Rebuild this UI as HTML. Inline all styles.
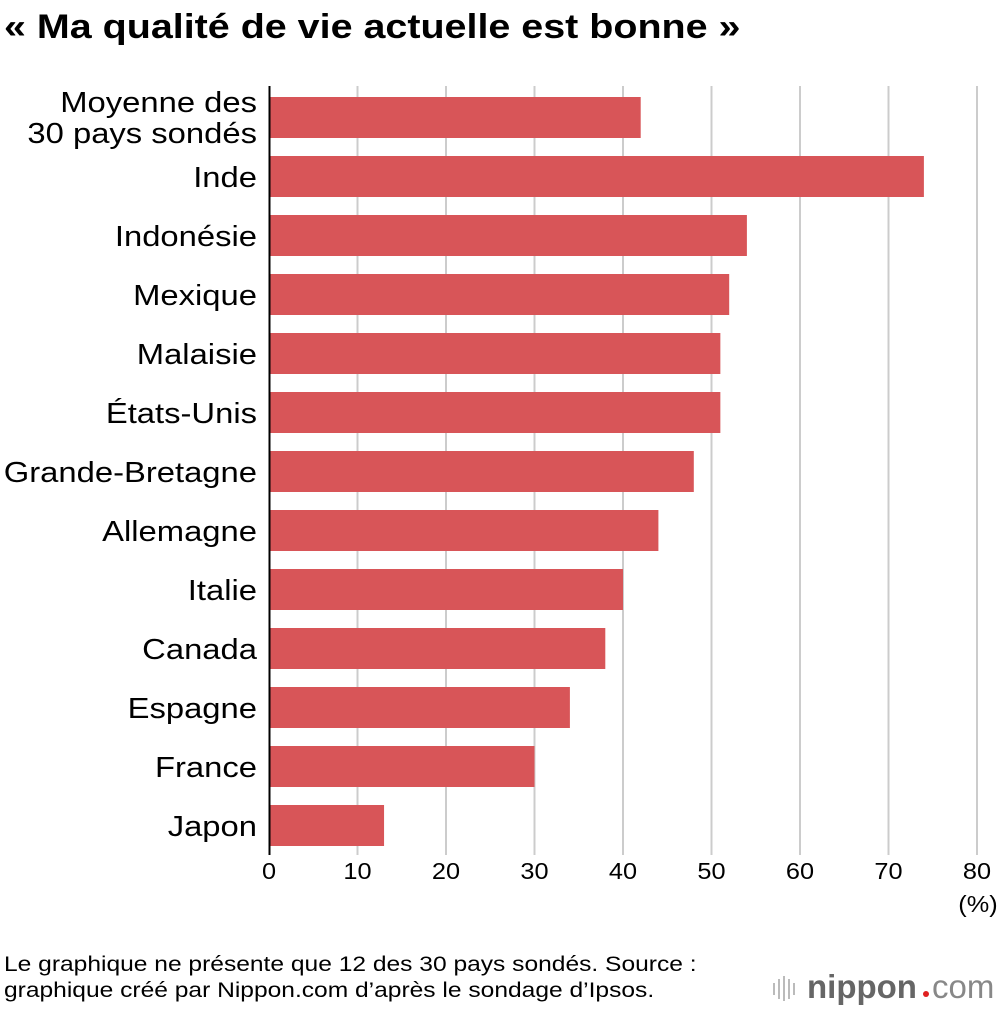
<!DOCTYPE html>
<html><head><meta charset="utf-8"><style>
body{margin:0;background:#fff;width:1000px;height:1010px;overflow:hidden;font-family:"Liberation Sans",sans-serif;}
svg text{font-family:"Liberation Sans",sans-serif;}
</style></head><body>
<svg id="chart" width="1000" height="1010">
<text class="st" data-k="1.16" x="4" y="38" font-size="34" font-weight="bold" fill="#000">« Ma qualité de vie actuelle est bonne »</text>
<g id="grid"></g><g id="bars"></g><g id="labels"></g><g id="ticks"></g>
<line x1="269.5" y1="86" x2="269.5" y2="855" stroke="#000" stroke-width="2"/>
<text class="st" data-k="1.1" x="978" y="912" font-size="23" text-anchor="middle">(%)</text>
<text class="st" data-k="1.17" x="4" y="971" font-size="21">Le graphique ne présente que 12 des 30 pays sondés. Source :</text>
<text class="st" data-k="1.17" x="4" y="997" font-size="21">graphique créé par Nippon.com d’après le sondage d’Ipsos.</text>
<g>
<g stroke="#bbb" stroke-width="2"><line x1="774" y1="983" x2="774" y2="995"/><line x1="779" y1="979" x2="779" y2="999"/><line x1="784" y1="976" x2="784" y2="1001"/><line x1="789" y1="979" x2="789" y2="999"/><line x1="794" y1="983" x2="794" y2="995"/></g>
<text x="807" y="998" font-size="33" font-weight="bold" fill="#666">nippon</text>
<circle cx="926" cy="994" r="3" fill="#e02020"/>
<text x="932" y="998" font-size="33" fill="#888">com</text>
</g>
</svg>
<script>
const categories=["Moyenne des|30 pays sondés","Inde","Indonésie","Mexique","Malaisie","États-Unis","Grande-Bretagne","Allemagne","Italie","Canada","Espagne","France","Japon"];
const values=[42,74,54,52,51,51,48,44,40,38,34,30,13];
const tickValues=[0,10,20,30,40,50,60,70,80];
const tickLabels=["0","10","20","30","40","50","60","70","80"];
const NS="http://www.w3.org/2000/svg";
const x0=269,x1=977,xmax=80,top0=97,pitch=59,bh=41;
const xs=v=>x0+(x1-x0)*v/xmax;
const ys=i=>top0+i*pitch;
function mk(t,a,p){const e=document.createElementNS(NS,t);for(const k in a)e.setAttribute(k,a[k]);p.appendChild(e);return e;}
function stretch(el,k){const w=el.getComputedTextLength();el.setAttribute('textLength',w*k);el.setAttribute('lengthAdjust','spacingAndGlyphs');}
const grid=document.getElementById('grid'),bars=document.getElementById('bars'),labels=document.getElementById('labels'),ticks=document.getElementById('ticks');
tickValues.forEach((v,i)=>{
 if(v>0){const l=mk('line',{x1:xs(v),x2:xs(v),y1:86,y2:855,stroke:'#ccc','stroke-width':2},grid);
 
 }
 const t=mk('text',{x:xs(v),y:879,'font-size':23,'text-anchor':'middle'},ticks);t.textContent=tickLabels[i];
 
 
 stretch(t,1.1);
});
categories.forEach((c,i)=>{
 const r=mk('rect',{x:x0+1,y:ys(i),width:xs(values[i])-x0-1,height:bh,fill:'#d85558'},bars);
 
 
 const parts=c.split('|');
 if(parts.length===2){
  parts.forEach((p,j)=>{
   const t=mk('text',{x:257,y:ys(i)+15+j*31,'font-size':29,'text-anchor':'end'},labels);
   t.textContent=p;
   
   
   stretch(t,1.13);
  });
 } else {
  const t=mk('text',{x:257,y:ys(i)+31,'font-size':29,'text-anchor':'end'},labels);
  t.textContent=c;
  
  
  stretch(t,1.13);
 }
});
document.querySelectorAll('text.st').forEach(e=>stretch(e,parseFloat(e.getAttribute('data-k'))));
</script>
</body></html>
